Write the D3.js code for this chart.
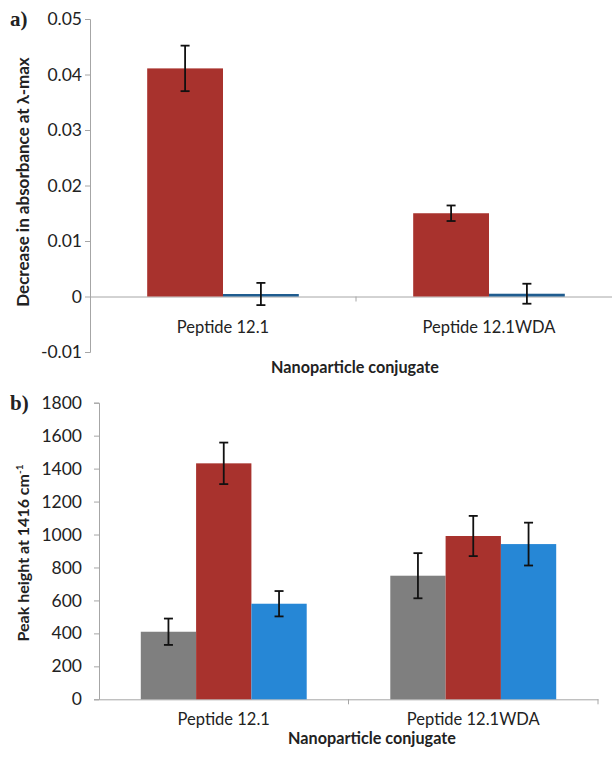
<!DOCTYPE html>
<html>
<head>
<meta charset="utf-8">
<script src="https://cdn.jsdelivr.net/npm/d3@7"></script>
<style>
  body { margin: 0; background: #fff; }
  svg text { font-family: Lato, "Open Sans", sans-serif; fill: #222; }
</style>
</head>
<body>
<svg width="612" height="758"></svg>
<script>
// shared categories
var categories = ["Peptide 12.1", "Peptide 12.1WDA"];

// panel a) - two series
var seriesA = ["red", "blue"];
var valuesA = [[0.0411, 0.00045], [0.0150, 0.0005]];
var errorsA = [[0.0041, 0.002], [0.0014, 0.0018]];
var ticksA = [-0.01, 0, 0.01, 0.02, 0.03, 0.04, 0.05];

// panel b) - three series
var seriesB = ["gray", "red", "blue"];
var valuesB = [[410, 1432, 580], [750, 991, 942]];
var errorsB = [[80, 126, 77], [137, 122, 130]];
var ticksB = [0, 200, 400, 600, 800, 1000, 1200, 1400, 1600, 1800];

var colorsA = {red: "#a8322d", blue: "#1f5c8f"};
var colorsB = {gray: "#7f7f7f", red: "#a8322d", blue: "#2687d6"};

var svg = d3.select("svg");

function panel(opt) {
  var g = svg.append("g");

  var y = d3.scaleLinear().domain(opt.domain).range([opt.bottom, opt.top]);
  var x0 = d3.scaleBand().domain(categories).range([opt.left, opt.right]);
  var x1 = d3.scaleBand().domain(opt.series)
      .range([0, x0.bandwidth() * opt.groupFrac]);
  var pad = (x0.bandwidth() - x1.range()[1]) / 2;

  // y axis
  var ya = g.append("g")
      .attr("transform", "translate(" + opt.left + ",0)")
      .call(d3.axisLeft(y).tickValues(opt.ticks).tickSize(5).tickPadding(opt.tickPad).tickFormat(opt.fmt));
  ya.select(".domain").attr("stroke", "#a6a6a6");
  ya.selectAll(".tick line").attr("stroke", "#a6a6a6");
  ya.selectAll(".tick text").style("font-size", "17.5px").attr("fill", "#222");

  // zero line with band ticks
  var xa = g.append("g")
      .attr("transform", "translate(0," + y(0) + ")")
      .call(d3.axisBottom(x0).tickSize(0).tickFormat(""));
  xa.select(".domain").attr("stroke", "#a6a6a6");
  xa.selectAll(".tick").remove();
  var bounds = categories.map(function(c) { return x0(c) + x0.bandwidth(); });
  g.selectAll(".btick").data(bounds).enter().append("line")
      .attr("x1", function(d) { return d; }).attr("x2", function(d) { return d; })
      .attr("y1", y(0)).attr("y2", y(0) + 5)
      .attr("stroke", "#a6a6a6");

  // bars
  var groups = g.selectAll(".grp").data(categories).enter().append("g")
      .attr("transform", function(c) { return "translate(" + (x0(c) + pad) + ",0)"; });

  groups.each(function(c, ci) {
    var gg = d3.select(this);
    opt.series.forEach(function(s, si) {
      var v = opt.values[ci][si];
      gg.append("rect")
        .attr("x", x1(s))
        .attr("width", x1.bandwidth())
        .attr("y", Math.min(y(v), y(0)))
        .attr("height", Math.max(Math.abs(y(0) - y(v)), opt.minH))
        .attr("fill", opt.colors[s]);
      var e = opt.errors[ci][si];
      var cx = x1(s) + x1.bandwidth() / 2;
      gg.append("line")
        .attr("x1", cx).attr("x2", cx)
        .attr("y1", y(v + e)).attr("y2", y(v - e))
        .attr("stroke", "#111").attr("stroke-width", 1.8);
      [v + e, v - e].forEach(function(t) {
        gg.append("line")
          .attr("x1", cx - 4.5).attr("x2", cx + 4.5)
          .attr("y1", y(t)).attr("y2", y(t))
          .attr("stroke", "#111").attr("stroke-width", 1.8);
      });
    });
  });

  // category labels
  g.selectAll(".cat").data(categories).enter().append("text")
      .attr("x", function(c) { return x0(c) + x0.bandwidth() / 2; })
      .attr("y", opt.catY)
      .attr("text-anchor", "middle")
      .style("font-size", "16.5px")
      .text(function(c) { return c; });

  g.append("text")
      .attr("x", opt.titleX).attr("y", opt.titleY)
      .attr("text-anchor", "middle")
      .style("font-size", "16.2px").style("font-weight", "bold")
      .text("Nanoparticle conjugate");

  var yt = g.append("text")
      .attr("transform", "translate(" + opt.ytX + "," + opt.ytY + ") rotate(-90)")
      .attr("text-anchor", "middle")
      .style("font-size", opt.ytSize).style("font-weight", "bold");
  opt.yTitle(yt);

  g.append("text")
      .attr("x", 10).attr("y", opt.top + 7)
      .style("font-family", "'Liberation Serif', 'DejaVu Serif', serif")
      .style("font-size", "21px").style("font-weight", "bold")
      .attr("fill", "#000")
      .text(opt.tag);
}

panel({
  series: seriesA, values: valuesA, errors: errorsA, colors: colorsA,
  domain: [-0.01, 0.05], ticks: ticksA, tickPad: 3,
  fmt: function(d) { return d === 0 ? "0" : d.toFixed(2); },
  left: 90, right: 622, top: 19, bottom: 352, groupFrac: 0.57, minH: 2.5,
  catY: 333, titleX: 355, titleY: 373, ytX: 29, ytY: 182, ytSize: "17px",
  yTitle: function(t) { t.text("Decrease in absorbance at λ-max"); },
  tag: "a)"
});

panel({
  series: seriesB, values: valuesB, errors: errorsB, colors: colorsB,
  domain: [0, 1800], ticks: ticksB, tickPad: 12,
  fmt: d3.format("d"),
  left: 99, right: 598, top: 402.7, bottom: 699.3, groupFrac: 0.665, minH: 0,
  catY: 725, titleX: 372, titleY: 744, ytX: 29, ytY: 553, ytSize: "16px",
  yTitle: function(t) {
    t.append("tspan").text("Peak height at 1416 cm");
    t.append("tspan").attr("dy", -6).style("font-size", "10px").text("-1");
  },
  tag: "b)"
});
</script>
</body>
</html>
